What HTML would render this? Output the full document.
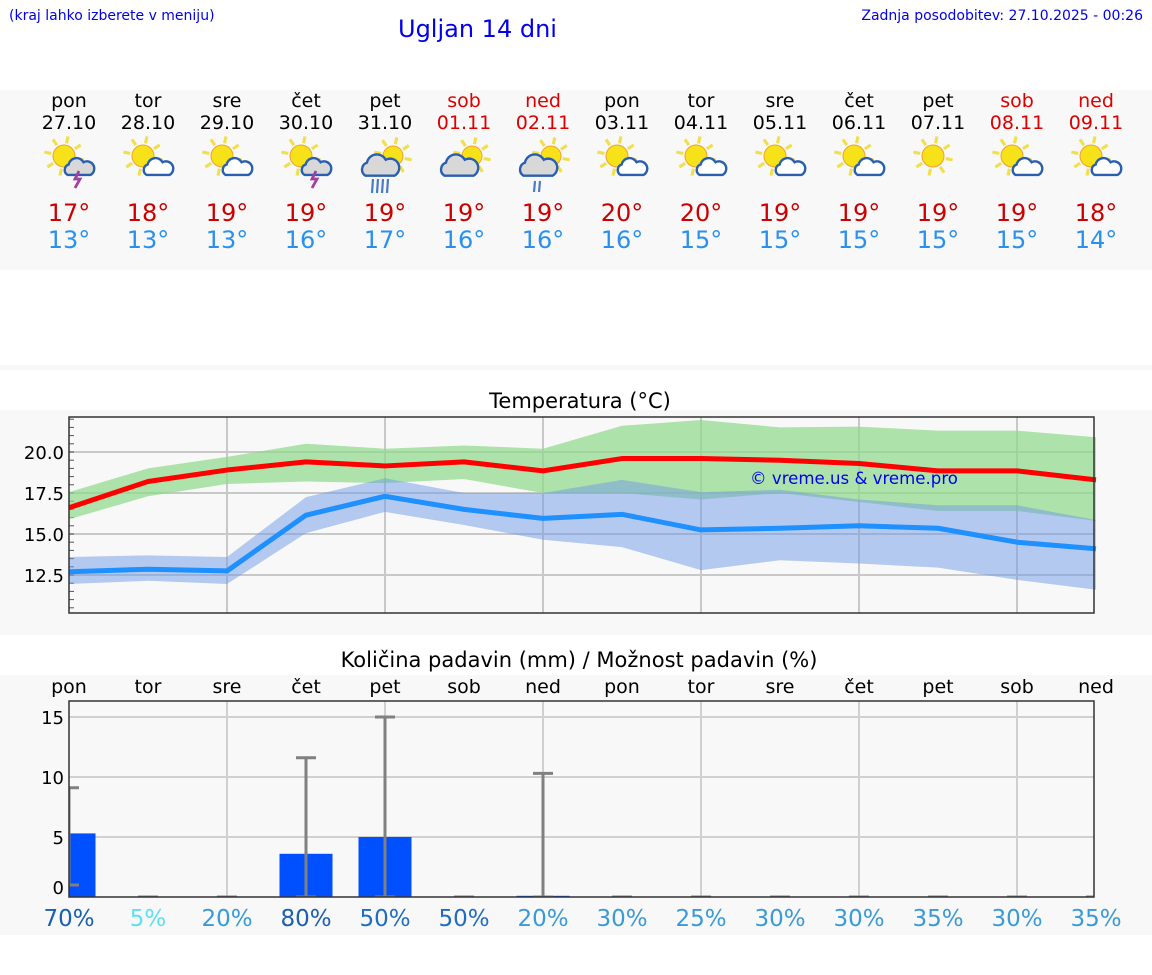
<!DOCTYPE html>
<html><head><meta charset="utf-8">
<style>
body{margin:0;width:1152px;height:975px;background:#fff;font-family:"DejaVu Sans","Liberation Sans",sans-serif;position:relative;overflow:hidden}
.t{position:absolute;white-space:nowrap}
</style></head>
<body>
<div class="t" style="left:9px;top:8px;font-size:14px;color:#0000ee">(kraj lahko izberete v meniju)</div>
<div class="t" style="left:398px;top:15px;font-size:24px;color:#0000ee">Ugljan 14 dni</div>
<div class="t" style="right:9px;top:8px;font-size:14px;color:#0000ee">Zadnja posodobitev: 27.10.2025 - 00:26</div>
<svg id="main" width="1152" height="975" style="position:absolute;left:0;top:0"></svg>
<script>
const days=["pon","tor","sre","čet","pet","sob","ned","pon","tor","sre","čet","pet","sob","ned"];
const dates=["27.10","28.10","29.10","30.10","31.10","01.11","02.11","03.11","04.11","05.11","06.11","07.11","08.11","09.11"];
const weekend=[0,0,0,0,0,1,1,0,0,0,0,0,1,1];
const icons=["ts","sc","sc","ts","cr","c","crl","sc","sc","sc","sc","s","sc","sc"];
const hiTemps=[17,18,19,19,19,19,19,20,20,19,19,19,19,18];
const loTemps=[13,13,13,16,17,16,16,16,15,15,15,15,15,14];
const maxLine=[16.6,18.2,18.9,19.4,19.15,19.4,18.85,19.6,19.6,19.5,19.3,18.85,18.85,18.3];
const maxUp=[17.55,19,19.7,20.5,20.2,20.4,20.2,21.6,21.95,21.5,21.55,21.3,21.3,20.9];
const maxLow=[15.9,17.3,18.05,18.2,18.1,18.35,17.5,17.5,17.1,17.5,16.95,16.4,16.4,15.8];
const minLine=[12.7,12.85,12.75,16.15,17.3,16.5,15.95,16.2,15.25,15.35,15.5,15.35,14.5,14.1];
const minUp=[13.6,13.7,13.6,17.25,18.4,17.5,17.5,18.3,17.55,17.7,17.1,16.75,16.75,15.85];
const minLow=[11.95,12.15,11.95,15.05,16.35,15.55,14.65,14.2,12.8,13.4,13.2,12.95,12.2,11.6];
const tempTicks=[12.5,15.0,17.5,20.0];
const precip=[5.3,0,0,3.6,5.0,0,0.1,0,0,0,0,0,0,0];
const errLow=[1.0,0,0,0,0,0,0,0,0,0,0,0,0,0];
const errHigh=[9.1,0,0,11.6,15,0,10.3,0,0,0,0,0,0,0];
const probs=[70,5,20,80,50,50,20,30,25,30,30,35,30,35];
const precipTicks=[0,5,10,15];

const svg=document.getElementById('main');
const NS='http://www.w3.org/2000/svg';
function el(tag,attrs,parent){const e=document.createElementNS(NS,tag);for(const k in attrs)e.setAttribute(k,attrs[k]);(parent||svg).appendChild(e);return e;}
function txt(x,y,s,size,fill,anchor,parent){const e=el('text',{x:x,y:y,'font-size':size,fill:fill,'text-anchor':anchor||'middle','font-family':'DejaVu Sans, Liberation Sans, sans-serif'},parent);e.textContent=s;return e;}
const X=i=>69+i*79;
const L=69,R=1094;
let b;
b=el('rect',{x:0,y:90,width:1152,height:180,fill:'#f8f8f8'});
b=el('rect',{x:0,y:365,width:1152,height:5,fill:'#f8f8f8'});
b=el('rect',{x:0,y:410,width:1152,height:225,fill:'#f8f8f8'});
b=el('rect',{x:0,y:675,width:1152,height:260,fill:'#f8f8f8'});

function sun(g,cx,cy,r){
  for(let k=0;k<8;k++){const a=k*Math.PI/4+0.2;el('line',{x1:cx+Math.cos(a)*(r+2),y1:cy+Math.sin(a)*(r+2),x2:cx+Math.cos(a)*(r+9),y2:cy+Math.sin(a)*(r+9),stroke:'#f0e050','stroke-width':3.2},g);}
  el('circle',{cx:cx,cy:cy,r:r,fill:'#f7e21a',stroke:'#f0a030','stroke-width':1},g);
}
function cloud(g,cx,cy,s,fill){
  el('path',{d:`M${cx-10*s},${cy+6*s} a${5*s},${5*s} 0 0 1 ${1*s},${-9*s} a${7*s},${7*s} 0 0 1 ${13*s},${-2*s} a${5*s},${5*s} 0 0 1 ${6*s},${11*s} z`,fill:fill,stroke:'#2a5fb0','stroke-width':2.4},g);
}
for(let i=0;i<14;i++){
  const x=X(i);
  const c=weekend[i]?'#dd0000':'#000';
  let t=txt(x,107,days[i],19,c);
  t=txt(x,129,dates[i],19,c);
  const g=el('g',{});
  const ic=icons[i];
  if(ic[0]=='c'){sun(g,x+8,156,10);cloud(g,x-5,167,1.45,'#d8d8d8');
    if(ic=='cr'){for(let k=0;k<4;k++)el('line',{x1:x-12+k*5,y1:179,x2:x-13+k*5,y2:193,stroke:'#4a7ac8','stroke-width':2.2},g);}
    if(ic=='crl'){for(let k=0;k<2;k++)el('line',{x1:x-8+k*5,y1:181,x2:x-9+k*5,y2:192,stroke:'#4a7ac8','stroke-width':2.2},g);}
  } else {sun(g,x-5,156,11);
    if(ic!='s'){cloud(g,x+10,168,1.15,ic=='ts'?'#d8d8d8':'#fff');}
    if(ic=='ts')el('path',{d:`M${x+10},${171} l-4,8 h5 l-5,9`,stroke:'#a040a0','stroke-width':2.8,fill:'none'},g);
  }
  t=txt(x,221,hiTemps[i]+'°',24,'#cc0000');
  t=txt(x,248,loTemps[i]+'°',24,'#2a90f0');
}
const TT=417,TB=613;
const ty=v=>452+(20-v)*16.4;
let tt=txt(580,408,'Temperatura (°C)',21,'#000');
const tp=el('g',{});
el('rect',{x:L,y:TT,width:R-L,height:TB-TT,fill:'#f8f8f8'},tp);
tempTicks.forEach(v=>{let g=el('line',{x1:L,x2:R,y1:ty(v),y2:ty(v),stroke:'#c8c8c8','stroke-width':2},tp);
  let l=txt(L-5,ty(v)+7,v.toFixed(1),18,'#000','end');});
for(let i=2;i<14;i+=2){el('line',{x1:X(i),x2:X(i),y1:TT,y2:TB,stroke:'#c8c8c8','stroke-width':2},tp);}
for(let v=10.5;v<22.2;v+=0.5){el('line',{x1:L,x2:L+5,y1:ty(v),y2:ty(v),stroke:'#555','stroke-width':1},tp);}
function band(up,lo,fill,op,name){let d='M';up.forEach((v,i)=>d+=X(i)+','+ty(v)+' L');for(let i=lo.length-1;i>=0;i--)d+=X(i)+','+ty(lo[i])+(i?' L':' Z');const p=el('path',{d:d,fill:fill,'fill-opacity':op},tp);}
function line(vals,col,name){const p=el('polyline',{points:vals.map((v,i)=>X(i)+','+ty(v)).join(' '),fill:'none',stroke:col,'stroke-width':5,'stroke-linejoin':'round'},tp);}
band(maxUp,maxLow,'#8ed88a',0.7,'max-temp-range');
band(minUp,minLow,'#6f9ae8',0.5,'min-temp-range');
line(maxLine,'#ff0000','max-temp-line');
line(minLine,'#1e90ff','min-temp-line');
el('rect',{x:L,y:TT,width:R-L,height:TB-TT,fill:'none',stroke:'#333','stroke-width':1.5},tp);
let wm=txt(750,484,'© vreme.us & vreme.pro',16.6,'#0000ee','start');
const PT=701,PB=897;
const py=v=>PB-v*12;
tt=txt(579,667,'Količina padavin (mm) / Možnost padavin (%)',21,'#000');
const pp=el('g',{});
el('rect',{x:L,y:PT,width:R-L,height:PB-PT,fill:'#f8f8f8'},pp);
precipTicks.forEach(v=>{if(v>0){el('line',{x1:L,x2:R,y1:py(v),y2:py(v),stroke:'#d0d0d0','stroke-width':2},pp);}
  let l=txt(L-5,py(v)+7-(v==0?10:0),String(v),18,'#000','end');});
for(let i=2;i<14;i+=2){el('line',{x1:X(i),x2:X(i),y1:PT,y2:PB,stroke:'#d0d0d0','stroke-width':2},pp);}
const clip=el('clipPath',{id:'pc'},svg);el('rect',{x:L,y:PT,width:R-L,height:PB-PT},clip);
const bars=el('g',{'clip-path':'url(#pc)'},pp);
for(let i=0;i<14;i++){
  const x=X(i);
  let t=txt(x,693,days[i],19,'#000');
  if(precip[i]>0){const r=el('rect',{x:x-26.5,y:py(precip[i]),width:53,height:PB-py(precip[i]),fill:'#0050ff'},bars);}
  const eg=el('g',{stroke:'#808080','stroke-width':3},bars);
  el('line',{x1:x,x2:x,y1:py(errLow[i]),y2:py(errHigh[i])},eg);
  el('line',{x1:x-10,x2:x+10,y1:py(errHigh[i]),y2:py(errHigh[i])},eg);
  el('line',{x1:x-10,x2:x+10,y1:py(errLow[i]),y2:py(errLow[i])},eg);
  const p=probs[i];const col=p>=70?'#1a5fb0':p>=50?'#1f6cc0':p>=10?'#3a9ad8':'#5ee0f0';
  t=txt(x,926,p+'%',23,col);
}
el('rect',{x:L,y:PT,width:R-L,height:PB-PT,fill:'none',stroke:'#333','stroke-width':1.5},pp);
</script>
</body></html>
